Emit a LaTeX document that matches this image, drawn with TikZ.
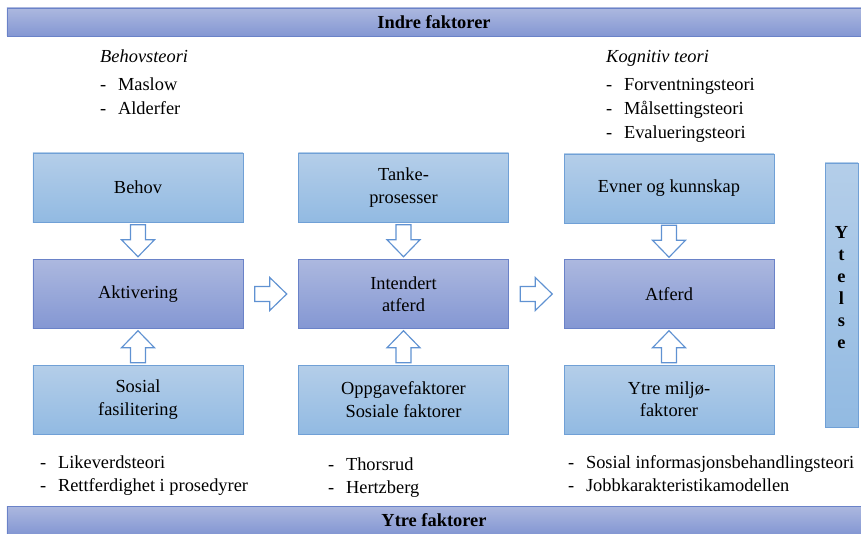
\documentclass[tikz,border=0pt]{standalone}
\usepackage{fontspec}
\setmainfont{Liberation Serif}
\usepackage{tikz}
\usetikzlibrary{positioning,calc}

\definecolor{lighttop}{RGB}{180,206,233}
\definecolor{lightbot}{RGB}{146,186,226}
\definecolor{lightline}{RGB}{112,160,214}
\definecolor{darktop}{RGB}{172,184,223}
\definecolor{darkbot}{RGB}{132,151,211}
\definecolor{darkline}{RGB}{106,130,200}
\definecolor{arrowblue}{RGB}{96,146,210}

\newcommand{\hollowarrow}[3]{%
  \path ($(#1)!0.5!(#2)$) coordinate (m);
  \draw[arrowline,shift={(m)},rotate=#3] (-16,-7.5) -- (-1,-7.5) -- (-1,-16.5)
    -- (16,0) -- (-1,16.5) -- (-1,7.5) -- (-16,7.5) -- cycle;
}

\begin{document}
\begin{tikzpicture}[x=0.03cm,y=-0.03cm]
    \tikzset{every node/.style={font=\fontsize{15.7}{19}\selectfont}}
    \tikzset{lightbox/.style={draw=lightline, line width=0.8pt, top color=lighttop, bottom color=lightbot,
             minimum width=6.3cm, minimum height=2.07cm, align=center, inner sep=2pt}}
    \tikzset{darkbox/.style={lightbox, draw=darkline, top color=darktop, bottom color=darkbot}}
    \tikzset{bar/.style={darkbox, minimum width=25.62cm, minimum height=0.84cm, font=\fontsize{15.7}{19}\selectfont\bfseries}}
    \tikzset{arrowline/.style={draw=arrowblue, line width=1pt, fill=white, line join=miter}}
    \tikzset{theory/.style={anchor=north west, inner sep=0pt, align=left}}
    \useasboundingbox (0,0) rectangle (861,534);

    % bars
    \node[bar] (indre) at (434,22) {Indre faktorer};
    \node[bar] (ytre) at (434,520) {Ytre faktorer};

    % first column
    \node[lightbox] (behov) at (138,187.5) {Behov};
    \node[darkbox] (aktivering) at (138,294) {Aktivering};
    \node[lightbox] (sosial) at (138,399.5) {Sosial\\fasilitering};

    % second column
    \node[lightbox] (tanke) at (403.5,187.5) {Tanke-\\prosesser};
    \node[darkbox] (intendert) at (403.5,294) {Intendert\\atferd};
    \node[lightbox] (oppgave) at (403.5,399.5) {Oppgavefaktorer\\Sosiale faktorer};

    % third column
    \node[lightbox] (evner) at (669,188.5) {Evner og kunnskap};
    \node[darkbox] (atferd) at (669,294) {Atferd};
    \node[lightbox] (miljo) at (669,399.5) {Ytre miljø-\\faktorer};

    % ytelse
    \node[lightbox, minimum width=0.99cm, minimum height=7.92cm, font=\fontsize{15.7}{18.8}\selectfont\bfseries]
      (ytelse) at (841.5,295) {\raisebox{5pt}[\height][\depth]{\begin{tabular}{@{}c@{}}Y\\t\\e\\l\\s\\e\end{tabular}}};

    % arrows
    \hollowarrow{behov.south}{aktivering.north}{-90}
    \hollowarrow{sosial.north}{aktivering.south}{90}
    \hollowarrow{tanke.south}{intendert.north}{-90}
    \hollowarrow{oppgave.north}{intendert.south}{90}
    \hollowarrow{evner.south}{atferd.north}{-90}
    \hollowarrow{miljo.north}{atferd.south}{90}
    \hollowarrow{aktivering.east}{intendert.west}{0}
    \hollowarrow{intendert.east}{atferd.west}{0}

    % theories
    \node[theory] (behovsteori) at (100,50) {\itshape Behovsteori};
    \node[theory] (behovliste) at (100,75) {\begin{tabular}{@{}l@{\hspace{10pt}}l@{}}
      - & Maslow\\[1.5pt] - & Alderfer\end{tabular}};
    \node[theory] (kognitiv) at (606,50) {\itshape Kognitiv teori};
    \node[theory] (kognitivliste) at (606,75) {\begin{tabular}{@{}l@{\hspace{10pt}}l@{}}
      - & Forventningsteori\\[1.5pt] - & Målsettingsteori\\[1.5pt] - & Evalueringsteori\end{tabular}};
    \node[theory] (likeverd) at (40,453) {\begin{tabular}{@{}l@{\hspace{10pt}}l@{}}
      - & Likeverdsteori\\ - & Rettferdighet i prosedyrer\end{tabular}};
    \node[theory] (thorsrud) at (328,455) {\begin{tabular}{@{}l@{\hspace{10pt}}l@{}}
      - & Thorsrud\\ - & Hertzberg\end{tabular}};
    \node[theory] (informasjon) at (568,453) {\begin{tabular}{@{}l@{\hspace{10pt}}l@{}}
      - & Sosial informasjonsbehandlingsteori\\ - & Jobbkarakteristikamodellen\end{tabular}};
\end{tikzpicture}
\end{document}
